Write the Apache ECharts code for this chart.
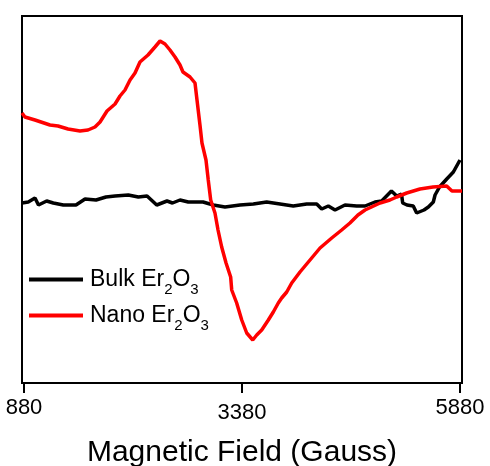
<!DOCTYPE html>
<html>
<head>
<meta charset="utf-8">
<script src="https://cdn.jsdelivr.net/npm/echarts@6/dist/echarts.min.js"></script>
<style>html,body{margin:0;padding:0;background:#fff}#c{width:490px;height:466px}</style>
</head>
<body>
<div id="c"></div>
<script>
// Magnetic field (Gauss) and signal (arbitrary units)
const nanoField = [857,891,1006,1178,1270,1385,1522,1614,1694,1752,1832,1924,1981,2038,2096,2153,2210,2302,2382,2440,2497,2554,2612,2669,2703,2784,2841,2864,2898,2921,2967,2993,3021,3070,3105,3147,3197,3250,3262,3319,3377,3434,3503,3549,3606,3682,3739,3796,3835,3893,3950,4045,4160,4275,4409,4523,4618,4710,4791,4963,5077,5154,5269,5421,5570,5727,5788,5880,5903];
const nanoSignal = [270,266,263,258,257,254,252,253,256,261,272,279,287,293,303,310,321,328,336,342,339,333,326,318,311,306,300,283,258,240,223,203,183,170,153,136,120,106,93,80,63,50,43,48,53,63,71,80,85,91,100,111,123,135,145,153,160,168,173,180,183,186,190,194,196,197,192,192,192];
const bulkField = [857,929,1006,1046,1140,1216,1331,1476,1580,1706,1820,1924,2076,2191,2291,2402,2520,2583,2669,2764,2933,3051,3185,3357,3510,3663,3816,3968,4122,4237,4294,4370,4447,4561,4695,4791,4905,4982,5094,5154,5209,5223,5272,5344,5383,5467,5517,5574,5594,5645,5728,5804,5880];
const bulkSignal = [180,181,185,178,182,180,178,178,184,183,186,187,188,186,187,178,182,180,183,181,181,178,176,178,179,181,179,177,179,179,174,177,173,178,177,177,181,182,192,187,189,180,178,177,170,173,176,181,188,196,204,211,223];
const xTicks = [880, 3380, 5880];
const seriesNames = ['Bulk Er2O3', 'Nano Er2O3'];

const zip = (a, b) => a.map((v, i) => [v, b[i]]);
const FONT = "'Liberation Sans', Arial, sans-serif";

const chart = echarts.init(document.getElementById('c'), null, {renderer: 'canvas'});
chart.setOption({
  animation: false,
  backgroundColor: '#fff',
  grid: {left: 22, right: 28, top: 16, bottom: 83, show: true, borderColor: '#000', borderWidth: 2,
         backgroundColor: 'transparent', containLabel: false, outerBoundsMode: 'none'},
  legend: {
    orient: 'vertical', left: 24, top: 263,
    icon: 'rect', itemWidth: 54, itemHeight: 4, itemGap: 7,
    data: seriesNames,
    formatter: function (name) {
      const base = name.replace('Er2O3', '');
      return '{m|' + base + 'Er}{s|2}{m|O}{s|3}';
    },
    textStyle: {
      fontFamily: FONT, color: '#000', padding: [0, 0, 0, 2],
      rich: {
        m: {fontFamily: FONT, fontSize: 23, color: '#000'},
        s: {fontFamily: FONT, fontSize: 15, color: '#000', padding: [20, 0, 0, 0]}
      }
    }
  },
  xAxis: {
    type: 'value', min: 857, max: 5903,
    splitLine: {show: false},
    axisLine: {show: true, lineStyle: {color: '#000', width: 2}},
    axisTick: {show: true, inside: false, length: 10, lineStyle: {color: '#000', width: 2}, customValues: xTicks},
    axisLabel: {show: true, color: '#000', fontFamily: FONT, fontSize: 22, margin: 14, customValues: xTicks,
                formatter: v => (v === xTicks[1] ? '{mid|' + v + '}' : String(v)),
                rich: {mid: {fontFamily: FONT, fontSize: 22, color: '#000', padding: [5, 0, 0, 0]}}},
    name: 'Magnetic Field (Gauss)', nameLocation: 'middle', nameGap: 55,
    nameTextStyle: {fontFamily: FONT, fontSize: 30, color: '#000'}
  },
  yAxis: {
    type: 'value', min: 0, max: 367,
    splitLine: {show: false},
    axisLine: {show: true, lineStyle: {color: '#000', width: 2}},
    axisTick: {show: false},
    axisLabel: {show: false}
  },
  series: [
    {name: seriesNames[0], type: 'line', data: zip(bulkField, bulkSignal), symbol: 'none', z: 2,
     lineStyle: {color: '#000', width: 3.5}, itemStyle: {color: '#000'}},
    {name: seriesNames[1], type: 'line', data: zip(nanoField, nanoSignal), symbol: 'none', z: 3,
     lineStyle: {color: '#ff0000', width: 3.5}, itemStyle: {color: '#ff0000'}}
  ]
});
</script>
</body>
</html>
